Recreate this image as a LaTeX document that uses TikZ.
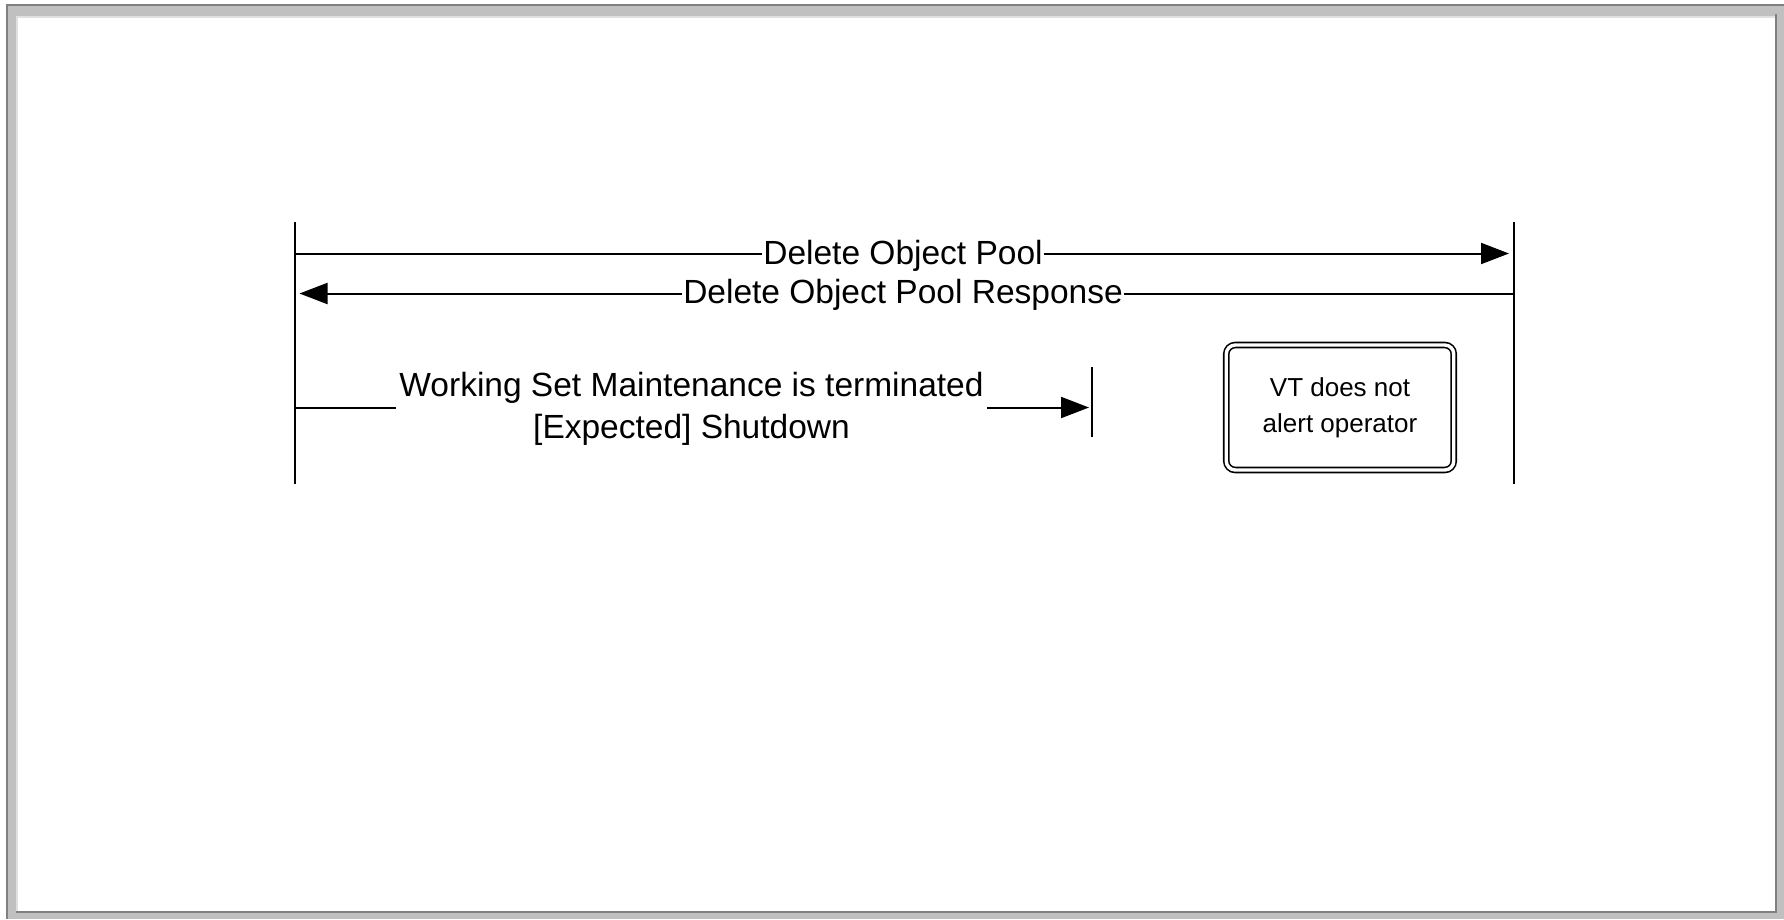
\documentclass[tikz,border=0pt]{standalone}
\usepackage{fontspec}
\setmainfont{Liberation Sans}
\usetikzlibrary{arrows.meta}
\definecolor{framedark}{RGB}{128,128,128}
\definecolor{framelight}{RGB}{192,192,192}
\definecolor{frameedge}{RGB}{224,224,224}
\tikzset{
  lifeline/.style={line width=2pt, black},
  msgline/.style={line width=2pt, black},
  msgarrow/.style={msgline, -{Triangle[length=28pt,width=21pt]}, shorten >=5pt},
  msglabel/.style={fill=white, inner xsep=1.5pt, inner ysep=1pt, font=\fontsize{33.5}{42}\selectfont, align=center},
  statebox/.style={draw=black, line width=1.6pt, double=white, double distance=3.4pt,
    rounded corners=9pt, minimum width=227.5pt, minimum height=125pt,
    font=\fontsize{26}{36}\selectfont, align=center, inner sep=0pt}
}
\begin{document}
\begin{tikzpicture}[x=1pt,y=-1pt]
% frame
\fill[white] (0,0) rectangle (1784,919);
\useasboundingbox (0,0) rectangle (1784,919);
\fill[framelight] (6,4) rectangle (1784,919);
\fill[framedark] (6,4) rectangle (1784,6);
\fill[framedark] (6,4) rectangle (8,919);
\fill[frameedge] (16,16) rectangle (1775,911);
\fill[white] (17.5,17.5) rectangle (1775,911);
\fill[framedark] (1775,14) rectangle (1777,913);
\fill[framedark] (16,911) rectangle (1777,913);

% lifelines
\coordinate (Atop) at (294.5,222);
\coordinate (Abot) at (294.5,484);
\coordinate (Btop) at (1514,222);
\coordinate (Bbot) at (1514,484);
\draw[lifeline] (Atop) -- (Abot);
\draw[lifeline] (Btop) -- (Bbot);

% message 1
\coordinate (m1a) at (294.5,253.5);
\coordinate (m1b) at (1514,253.5);
\draw[msgarrow] (m1a) -- (m1b);
\node[msglabel] (l1) at (903,255.5) {Delete Object Pool};

% message 2
\coordinate (m2a) at (1514,293.5);
\coordinate (m2b) at (294.5,293.5);
\draw[msgarrow] (m2a) -- (m2b);
\node[msglabel] (l2) at (903,294.5) {Delete Object Pool Response};

% message 3 with end bar
\coordinate (bartop) at (1092,367);
\coordinate (barbot) at (1092,437);
\draw[lifeline] (bartop) -- (barbot);
\coordinate (m3a) at (294.5,407.5);
\coordinate (m3b) at (1092,407.5);
\draw[msgarrow, shorten >=3pt] (m3a) -- (m3b);
\node[msglabel, inner xsep=3pt] (l3) at (691.5,409) {Working Set Maintenance is terminated\\\relax [Expected] Shutdown};

% state box
\node[statebox] (vt) at (1340,407.5) {VT does not\\alert operator};
\end{tikzpicture}
\end{document}
